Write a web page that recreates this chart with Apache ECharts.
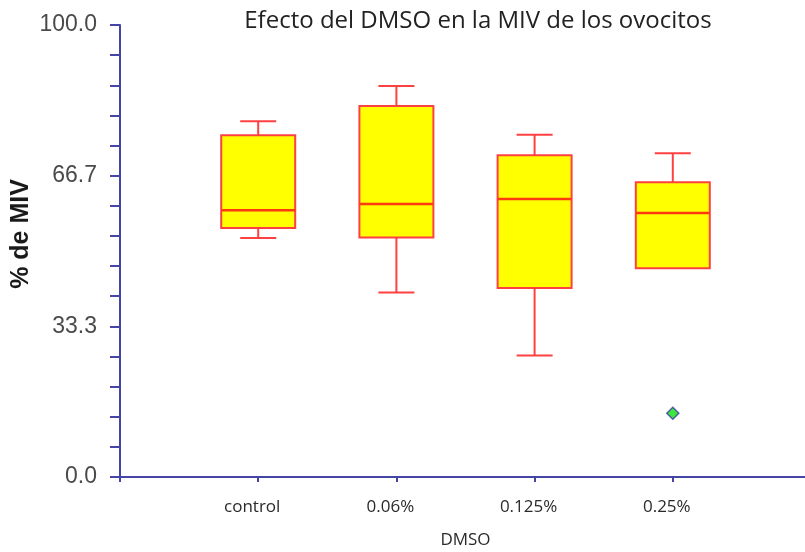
<!DOCTYPE html>
<html>
<head>
<meta charset="utf-8">
<script src="https://cdn.jsdelivr.net/npm/echarts@6/dist/echarts.min.js"></script>
<style>
  html, body { margin: 0; padding: 0; background: #fff; }
  #grafico { width: 805px; height: 552px; }
</style>
</head>
<body>
<div id="grafico"></div>
<script>
// grupos de DMSO (posiciones 1..4 en el eje x)
const grupos = ['control', '0.06%', '0.125%', '0.25%']
// [min, Q1, mediana, Q3, max] de % de MIV
const minimos = [52.9, 40.8, 26.9, 46.2]
const cuartil1 = [55.1, 53.0, 41.8, 46.2]
const medianas = [59.0, 60.4, 61.5, 58.4]
const cuartil3 = [75.6, 82.1, 71.2, 65.2]
const maximos = [78.7, 86.5, 75.7, 71.6]
// valores atípicos [grupo, valor]
const atipicos = [[4, 14.1]]

let cajas = grupos.map((g, i) => [i + 1, minimos[i], cuartil1[i], medianas[i], cuartil3[i], maximos[i]])

let rojo = '#ff4040'
let azul = '#4545a5'

function dibujarCaja(params, api) {
    let x = api.value(0)
    let pMin = api.coord([x, api.value(1)])
    let pQ1 = api.coord([x, api.value(2)])
    let pMed = api.coord([x, api.value(3)])
    let pQ3 = api.coord([x, api.value(4)])
    let pMax = api.coord([x, api.value(5)])
    let ancho = 37
    let tapa = 18
    let cx = pMed[0]
    let linea = { stroke: rojo, lineWidth: 2 }
    return {
        type: 'group',
        children: [
            { type: 'line', shape: { x1: cx, y1: pMax[1], x2: cx, y2: pQ3[1] }, style: linea },
            { type: 'line', shape: { x1: cx - tapa, y1: pMax[1], x2: cx + tapa, y2: pMax[1] }, style: linea },
            { type: 'line', shape: { x1: cx, y1: pMin[1], x2: cx, y2: pQ1[1] }, style: linea },
            { type: 'line', shape: { x1: cx - tapa, y1: pMin[1], x2: cx + tapa, y2: pMin[1] }, style: linea,
              invisible: api.value(1) === api.value(2) },
            { type: 'rect', shape: { x: cx - ancho, y: pQ3[1], width: ancho * 2, height: pQ1[1] - pQ3[1] },
              style: { fill: '#ffff00', stroke: rojo, lineWidth: 2 } },
            { type: 'line', shape: { x1: cx - ancho, y1: pMed[1], x2: cx + ancho, y2: pMed[1] },
              style: { stroke: '#ff3a10', lineWidth: 2.5 } }
        ]
    }
}

let myChart = echarts.init(document.getElementById('grafico'), null, { renderer: 'canvas' })
let option = {
    animation: false,
    title: {
        text: 'Efecto del DMSO en la MIV de los ovocitos',
        left: 473,
        top: 4,
        textAlign: 'center',
        textStyle: { fontFamily: 'Open Sans', fontSize: 24, fontWeight: 'normal', color: '#222' }
    },
    grid: { left: 120, right: -6, top: 25, bottom: 75, outerBoundsMode: 'none' },
    xAxis: {
        type: 'value',
        min: 0,
        max: 5,
        interval: 1,
        name: 'DMSO',
        nameLocation: 'middle',
        nameGap: 55,
        nameMoveOverlap: false,
        nameTextStyle: { fontFamily: 'Open Sans', fontSize: 17, color: '#2a2a2a' },
        axisLine: { show: true, lineStyle: { color: azul, width: 2 } },
        axisTick: { show: true, length: 5, lineStyle: { color: azul, width: 2 } },
        axisLabel: {
            margin: 22,
            fontFamily: 'Open Sans',
            fontSize: 17,
            color: '#2a2a2a',
            padding: [0, 12, 0, 0],
            formatter: function (v) { return grupos[v - 1] || '' }
        },
        splitLine: { show: false }
    },
    yAxis: {
        type: 'value',
        min: 0,
        max: 100,
        interval: 100 / 15,
        name: '% de MIV',
        nameLocation: 'middle',
        nameGap: 86,
        nameMoveOverlap: false,
        nameTextStyle: { fontFamily: 'Liberation Sans', fontSize: 25, fontWeight: 'bold', color: '#1a1a1a', padding: [0, 0, 0, 34] },
        axisLine: { show: true, lineStyle: { color: azul, width: 2 } },
        axisTick: { show: true, length: 10, lineStyle: { color: azul, width: 2 } },
        axisLabel: {
            margin: 23,
            fontFamily: 'Liberation Sans',
            fontSize: 23,
            color: '#4a4a4a',
            formatter: function (v, i) { return i % 5 === 0 ? v.toFixed(1) : '' }
        },
        splitLine: { show: false }
    },
    series: [
        {
            name: 'MIV',
            type: 'custom',
            renderItem: dibujarCaja,
            encode: { x: 0, y: [1, 2, 3, 4, 5] },
            data: cajas
        },
        {
            name: 'atipicos',
            type: 'scatter',
            symbol: 'diamond',
            symbolSize: 12,
            itemStyle: { color: '#10e010', borderColor: '#3a3aa0', borderWidth: 1.5 },
            data: atipicos
        }
    ]
}
myChart.setOption(option)
window.addEventListener('resize', myChart.resize)
</script>
</body>
</html>
